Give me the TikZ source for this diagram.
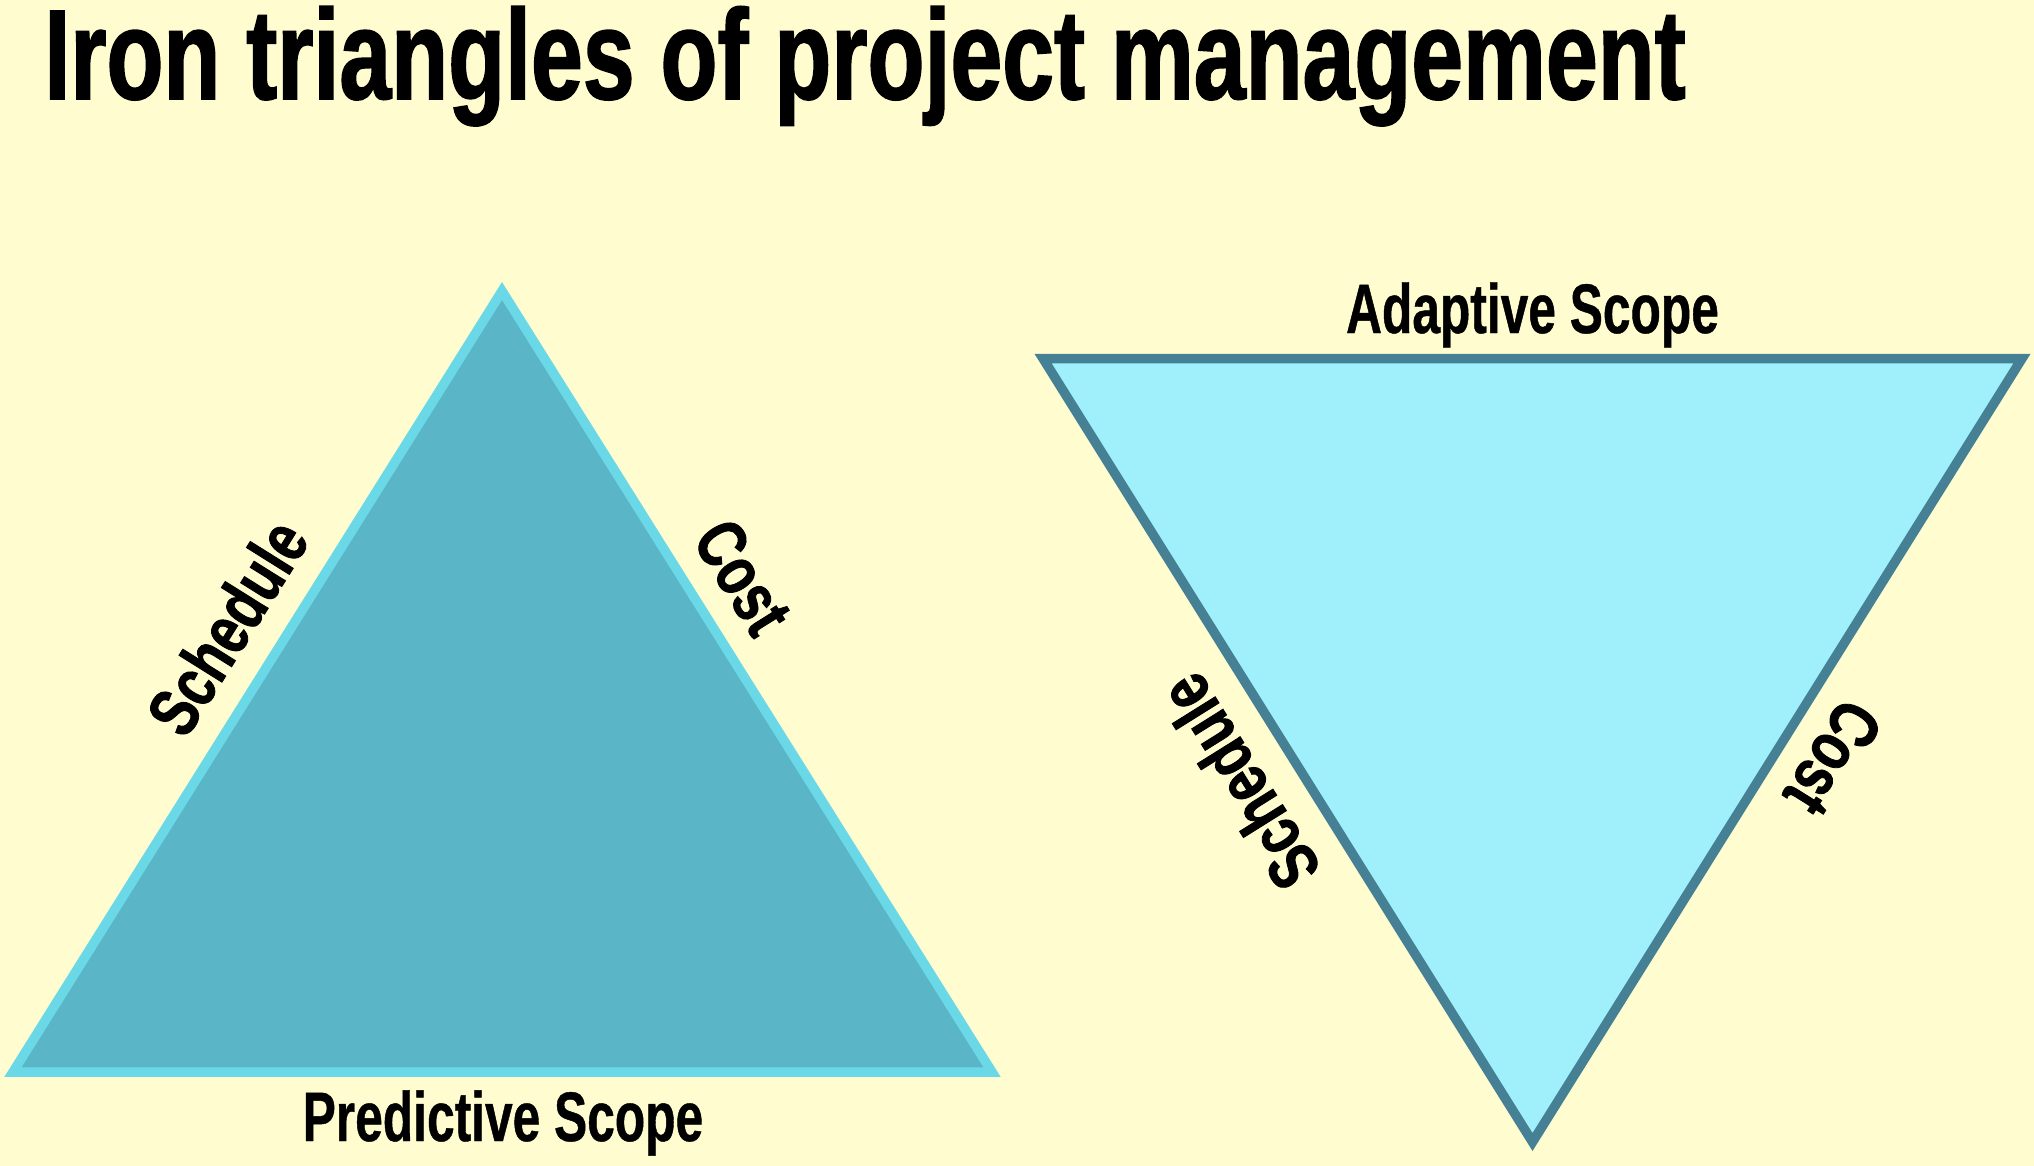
\documentclass[tikz,border=0pt]{standalone}
\usepackage{fontspec}
\newfontfamily\headfont[FakeStretch=0.728, FakeBold=1.2]{Liberation Sans}
\newfontfamily\tagfont[FakeStretch=0.71, FakeBold=0.6]{Liberation Sans}
\newfontfamily\edgefont[FakeStretch=0.76, FakeBold=1.2]{Liberation Sans}
\definecolor{paper}{HTML}{FFFDD0}
\definecolor{predfill}{HTML}{5AB6C6}
\definecolor{predline}{HTML}{6AD8E6}
\definecolor{adapfill}{HTML}{A0F0FC}
\definecolor{adapline}{HTML}{458094}
\begin{document}
\begin{tikzpicture}[x=0.5pt,y=-0.5pt,
  tri/.style={line width=4.75pt, line join=miter},
  predtri/.style={tri, draw=predline, fill=predfill},
  adaptri/.style={tri, draw=adapline, fill=adapfill},
  heading/.style={font=\headfont\bfseries\fontsize{64}{70}\selectfont, inner sep=0pt, anchor=base west},
  side/.style={font=\edgefont\bfseries\fontsize{35}{40}\selectfont, inner sep=0pt},
  scope label/.style={font=\tagfont\bfseries\fontsize{35}{40}\selectfont, inner sep=0pt, anchor=base}]
  % canvas
  \fill[paper] (0,0) rectangle (2034,1166);
  \useasboundingbox (0,0) rectangle (2034,1166);

  % title
  \node[heading] (title) at (44,99) {Iron triangles of project management};

  % predictive triangle (apex up)
  \coordinate (pA) at (502,291);
  \coordinate (pL) at (13,1072);
  \coordinate (pR) at (992,1072);
  \draw[predtri] (pA) -- (pR) -- (pL) -- cycle;
  \node[side, rotate=57.95]  (pSched) at (227,627) {Schedule};
  \node[side, rotate=-57.95] (pCost)  at (743,577) {Cost};
  \node[scope label] (pScope) at (503,1141) {Predictive Scope};

  % adaptive triangle (apex down)
  \coordinate (aL) at (1043,358.5);
  \coordinate (aR) at (2022,358.5);
  \coordinate (aB) at (1532.5,1142);
  \draw[adaptri] (aL) -- (aR) -- (aB) -- cycle;
  \node[side, rotate=122]  (aSched) at (1239,782) {Schedule};
  \node[side, rotate=-122] (aCost)  at (1833,758) {Cost};
  \node[scope label] (aScope) at (1532.5,333) {Adaptive Scope};
\end{tikzpicture}
\end{document}
